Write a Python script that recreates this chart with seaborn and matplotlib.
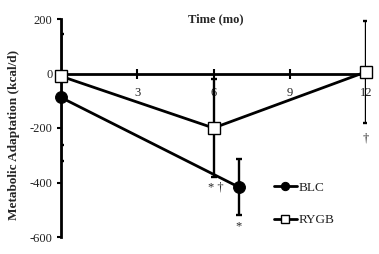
import matplotlib
matplotlib.use("Agg")
import matplotlib.pyplot as plt
import seaborn as sns
import pandas as pd

# Data
blc_months = [0, 7]
blc_values = [-88, -417]
blc_err = [232, 102]

rygb_months = [0, 6, 12]
rygb_values = [-10, -200, 6]
rygb_err = [253, 180, 188]

x_ticks = [3, 6, 9, 12]
y_ticks = [200, 0, -200, -400, -600]

sns.set_theme(style="white")
plt.rcParams['font.family'] = ['Liberation Serif', 'DejaVu Serif']

fig = plt.figure(figsize=(3.79, 2.54), dpi=100)
ax = fig.add_axes([61/379, 1-237/254, 305/379, 218/254])

df = pd.concat([
    pd.DataFrame({"Month": blc_months, "Value": blc_values, "Group": "BLC"}),
    pd.DataFrame({"Month": rygb_months, "Value": rygb_values, "Group": "RYGB"}),
])

# error bars
ax.errorbar(blc_months, blc_values, yerr=blc_err, fmt='none', ecolor='black',
            elinewidth=1.7, capsize=2.5, capthick=1.7, zorder=2, clip_on=True)
ax.errorbar(rygb_months, rygb_values, yerr=rygb_err, fmt='none', ecolor='black',
            elinewidth=1.7, capsize=2.5, capthick=1.7, zorder=2, clip_on=True)

sns.lineplot(data=df[df.Group == "BLC"], x="Month", y="Value", ax=ax, color='black',
             linewidth=2, marker='o', markersize=8.5, markerfacecolor='black',
             markeredgecolor='black', label="BLC", zorder=3, clip_on=False)
sns.lineplot(data=df[df.Group == "RYGB"], x="Month", y="Value", ax=ax, color='black',
             linewidth=2, marker='s', markersize=8.5, markerfacecolor='white',
             markeredgecolor='black', markeredgewidth=1, label="RYGB", zorder=4,
             clip_on=False)

ax.set_xlim(0, 12)
ax.set_ylim(-600, 200)
ax.set_xticks(x_ticks)
ax.set_xticklabels([str(t) for t in x_ticks])
ax.set_yticks(y_ticks)
ax.set_yticklabels([str(t) for t in y_ticks])

for s in ['top', 'right']:
    ax.spines[s].set_visible(False)
ax.spines['bottom'].set_position(('data', 0))
ax.spines['bottom'].set_linewidth(2)
ax.spines['left'].set_linewidth(2)
ax.spines['bottom'].set_color('black')
ax.spines['left'].set_color('black')

ax.tick_params(axis='x', direction='inout', length=7, width=1.5, pad=6,
               labelsize=9, colors='black', bottom=True)
ax.tick_params(axis='y', direction='out', length=3, width=1.5, pad=3,
               labelsize=9, colors='black', left=True)
for lab in ax.get_xticklabels() + ax.get_yticklabels():
    lab.set_color('#222222')

ax.set_xlabel("")
ax.set_ylabel("")
fig.text(216/379, 1-19/254, "Time (mo)", ha='center', va='center',
         fontsize=9, fontweight='bold')
fig.text(14/379, 1-135/254, "Metabolic Adaptation (kcal/d)", ha='center',
         va='center', rotation=90, fontsize=9.5, fontweight='bold')

# significance marks
ax.text(6.1, -420, "* \u2020", ha='center', va='center', fontsize=9)
ax.text(7, -560, "*", ha='center', va='center', fontsize=9)
ax.text(12, -238, "\u2020", ha='center', va='center', fontsize=9)

leg = ax.legend(loc='center left', bbox_to_anchor=(267/379, 1-204/254),
                bbox_transform=fig.transFigure, frameon=False, fontsize=9.5,
                handlelength=1.8, handletextpad=0.1, labelspacing=1.55,
                borderpad=0, markerscale=0.7)
for t in leg.get_texts():
    t.set_color('#222222')

ax.set_facecolor('white')
fig.patch.set_facecolor('white')
fig.savefig("out.png", dpi=100)
